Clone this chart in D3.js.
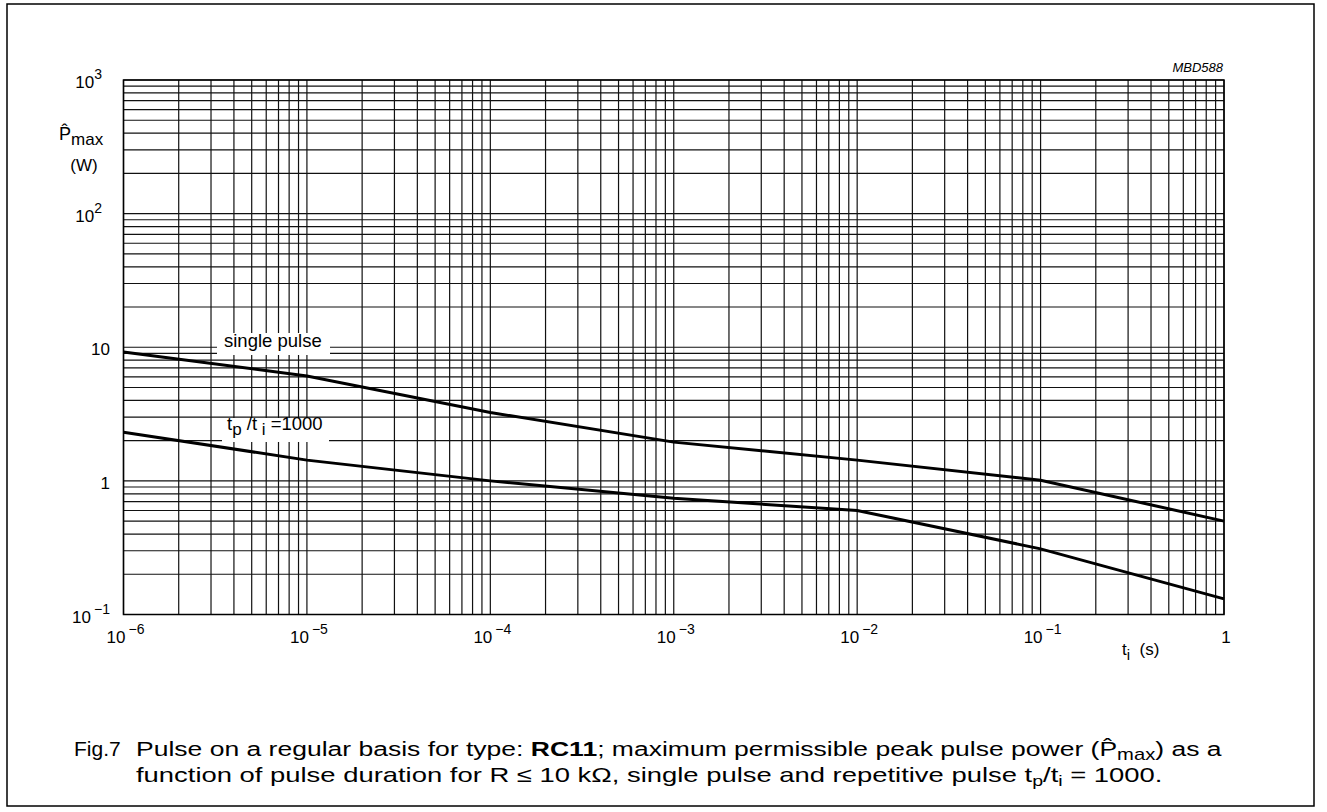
<!DOCTYPE html>
<html>
<head>
<meta charset="utf-8">
<script src="https://cdn.jsdelivr.net/npm/d3@7"></script>
<style>
  body { margin: 0; background: #fff; }
  svg text { font-family: "Liberation Sans", Arial, Helvetica, sans-serif; fill: #000; }
</style>
</head>
<body>
<div id="chart"></div>
<script>
// pulse duration t_i (s) and max peak pulse power (W)
tiValues = [1e-6, 1e-5, 1e-4, 1e-3, 1e-2, 1e-1, 1];
singlePulse = [9.2, 6.1, 3.25, 1.95, 1.43, 1.01, 0.5];
repetitive1000 = [2.31, 1.43, 1.0, 0.74, 0.60, 0.31, 0.131];

xTickLabels = [["10", "\u22126"], ["10", "\u22125"], ["10", "\u22124"], ["10", "\u22123"], ["10", "\u22122"], ["10", "\u22121"], ["1", ""]];
xTickValues = [1e-6, 1e-5, 1e-4, 1e-3, 1e-2, 1e-1, 1];
yTickLabels = [["10", "\u22121"], ["1", ""], ["10", ""], ["10", "2"], ["10", "3"]];
yTickValues = [0.1, 1, 10, 100, 1000];

// stretch a caption line horizontally so it ends where the reference line ends
function fitWidth(sel, target) {
    let w = sel.node().getComputedTextLength();
    sel.attr('transform', `scale(${target / w},1)`);
}

window.addEventListener('load', function() {
    let svg = d3.select('#chart')
        .append('svg')
        .attr('width', 1327)
        .attr('height', 812);

    svg.append('rect')
        .attr('width', 1327).attr('height', 812)
        .attr('fill', '#fff');

    // outer frame
    svg.append('rect')
        .attr('x', 7).attr('y', 4)
        .attr('width', 1307).attr('height', 802)
        .attr('fill', 'none')
        .attr('stroke', '#000')
        .attr('stroke-width', 1.5);

    let x = d3.scaleLog().domain([1e-6, 1]).range([123.5, 1224]);
    let y = d3.scaleLog().domain([0.1, 1000]).range([614.5, 80]);

    // grid (all 1..9 subdivisions per decade)
    let grid = svg.append('g').attr('stroke', '#111').attr('stroke-width', 1.2);
    grid.selectAll('.vg')
        .data(x.ticks())
        .enter().append('line')
        .attr('class', 'vg')
        .attr('x1', d => x(d)).attr('x2', d => x(d))
        .attr('y1', y(1000)).attr('y2', y(0.1));
    grid.selectAll('.hg')
        .data(y.ticks())
        .enter().append('line')
        .attr('class', 'hg')
        .attr('x1', x(1e-6)).attr('x2', x(1))
        .attr('y1', d => y(d)).attr('y2', d => y(d));
    svg.append('rect')
        .attr('x', x(1e-6)).attr('y', y(1000))
        .attr('width', x(1) - x(1e-6)).attr('height', y(0.1) - y(1000))
        .attr('fill', 'none').attr('stroke', '#000').attr('stroke-width', 1.5);

    // label boxes knock out the grid
    svg.append('rect').attr('x', 217).attr('y', 333).attr('width', 113).attr('height', 22).attr('fill', '#fff');
    svg.append('rect').attr('x', 222).attr('y', 418).attr('width', 107).attr('height', 24).attr('fill', '#fff');

    // curves
    let line = d3.line()
        .x(d => x(d[0]))
        .y(d => y(d[1]));
    [singlePulse, repetitive1000].forEach(function(series) {
        svg.append('path')
            .datum(tiValues.map((t, i) => [t, series[i]]))
            .attr('d', line)
            .attr('fill', 'none')
            .attr('stroke', '#000')
            .attr('stroke-width', 3);
    });

    // curve labels
    svg.append('text')
        .attr('x', 224).attr('y', 347)
        .style('font-size', '18.5px')
        .text('single pulse');
    let rl = svg.append('text')
        .attr('x', 227).attr('y', 430)
        .style('font-size', '18.5px');
    rl.append('tspan').text('t');
    rl.append('tspan').attr('dy', 5).style('font-size', '17px').text('p');
    rl.append('tspan').attr('dy', -5).text(' /t');
    rl.append('tspan').attr('dy', 5).style('font-size', '17px').text(' i');
    rl.append('tspan').attr('dy', -5).text('  =1000');

    // x tick labels
    xTickValues.forEach(function(v, i) {
        let lab = xTickLabels[i];
        let t = svg.append('text')
            .attr('x', x(v) + 2)
            .attr('y', 643)
            .attr('text-anchor', 'middle')
            .style('font-size', '17px');
        t.append('tspan').text(lab[0]);
        if (lab[1]) {
            t.append('tspan').attr('dx', 3).attr('dy', -9).style('font-size', '14px').text(lab[1]);
        }
    });

    // y tick labels
    yTickValues.forEach(function(v, i) {
        let lab = yTickLabels[i];
        let neg = lab[1].indexOf('\u2212') === 0;
        let t = svg.append('text')
            .attr('x', lab[1] && !neg ? 102 : 110)
            .attr('y', y(v) + 8)
            .attr('text-anchor', 'end')
            .style('font-size', '17px');
        t.append('tspan').text(lab[0]);
        if (lab[1]) {
            t.append('tspan').attr('dx', neg ? 3 : 0).attr('dy', -9).style('font-size', '14px').text(lab[1]);
        }
    });

    // axis titles
    let yt = svg.append('text').attr('x', 59).attr('y', 140).style('font-size', '18px');
    yt.append('tspan').text('P\u0302');
    yt.append('tspan').attr('dy', 5).style('font-size', '17px').text('max');
    svg.append('text').attr('x', 84).attr('y', 171).attr('text-anchor', 'middle').style('font-size', '17px').text('(W)');

    let xt = svg.append('text').attr('x', 1122).attr('y', 655).style('font-size', '17px');
    xt.append('tspan').text('t');
    xt.append('tspan').attr('dy', 5).style('font-size', '15px').text('i');
    xt.append('tspan').attr('dy', -5).style('white-space', 'pre').text('  (s)');

    svg.append('text')
        .attr('x', 1223).attr('y', 72)
        .attr('text-anchor', 'end')
        .style('font-size', '13px')
        .style('font-style', 'italic')
        .text('MBD588');

    // caption
    svg.append('text').attr('x', 74).attr('y', 756).style('font-size', '21px').text('Fig.7');
    let g1 = svg.append('g').attr('transform', 'translate(136,756)');
    let c1 = g1.append('text').style('font-size', '21px');
    c1.append('tspan').text('Pulse on a regular basis for type: ');
    c1.append('tspan').style('font-weight', 'bold').text('RC11');
    c1.append('tspan').text('; maximum permissible peak pulse power (');
    c1.append('tspan').text('P\u0302');
    c1.append('tspan').attr('dy', 4).style('font-size', '16px').text('max');
    c1.append('tspan').attr('dy', -4).text(') as a');
    fitWidth(c1, 1222 - 136);
    let g2 = svg.append('g').attr('transform', 'translate(136,782)');
    let c2 = g2.append('text').style('font-size', '21px');
    c2.append('tspan').text('function of pulse duration for R \u2264 10 k\u03A9, single pulse and repetitive pulse t');
    c2.append('tspan').attr('dy', 4).style('font-size', '15px').text('p');
    c2.append('tspan').attr('dy', -4).text('/t');
    c2.append('tspan').attr('dy', 4).style('font-size', '15px').text('i');
    c2.append('tspan').attr('dy', -4).text(' = 1000.');
    fitWidth(c2, 1163 - 136);
});
</script>
</body>
</html>
